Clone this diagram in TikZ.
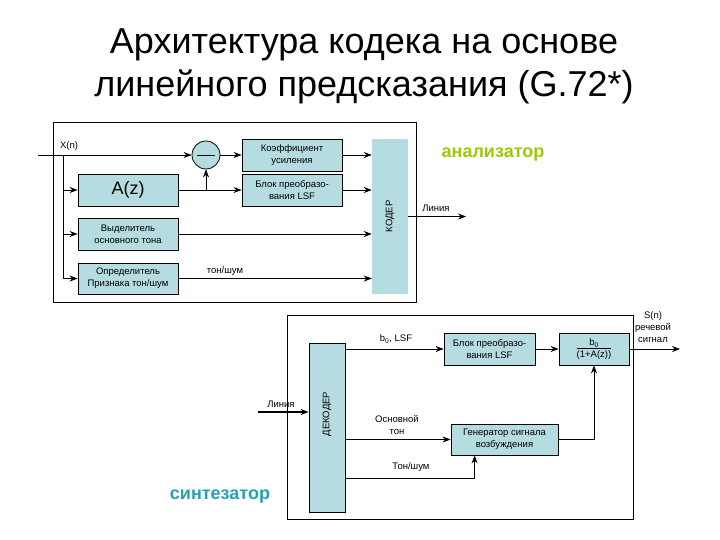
\documentclass[tikz,border=0pt]{standalone}
\usepackage{fontspec}
\setmainfont{Liberation Sans}
\usetikzlibrary{arrows.meta,calc}
\definecolor{boxfill}{RGB}{181,220,224}
\definecolor{analyz}{RGB}{153,204,0}
\definecolor{synthc}{RGB}{38,160,176}
\begin{document}
\begin{tikzpicture}[x=1pt,y=-1pt,
  every node/.style={font=\fontsize{9.5}{12}\selectfont, inner sep=0pt, align=center},
  blk/.style={draw, fill=boxfill, line width=0.8pt},
  frm/.style={draw, line width=0.8pt},
  arr/.style={-{Stealth[length=8pt,width=6pt]}, line width=0.8pt},
  ln/.style={line width=0.8pt}]

\useasboundingbox (0,0) rectangle (720,540);

% title
\node[font=\fontsize{36}{43}\selectfont] (title) at (364,66)
  {Архитектура кодека на основе\\линейного предсказания (G.72*)};

% ---------- analyzer ----------
\node[frm, minimum width=363pt, minimum height=180pt] (afr) at (234.5,212) {};
\node (xn) at (69,146) {X(n)};
\coordinate (in) at (38,155);
\coordinate (tap) at (63,155);
\node[blk, circle, minimum size=28pt] (sum) at (206,155) {};
\draw[ln] ($(sum.center)+(-9,0)$) -- ($(sum.center)+(9,0)$);
\node[blk, minimum width=100pt, minimum height=32pt, font=\fontsize{18}{20}\selectfont] (az) at (128,190) {A(z)};
\node[blk, minimum width=100pt, minimum height=32pt] (vyd) at (128,234) {Выделитель\\основного тона};
\node[blk, minimum width=100pt, minimum height=31pt] (opr) at (128,278.5) {Определитель\\Признака тон/шум};
\node[blk, minimum width=100pt, minimum height=32pt] (kf) at (292,155) {Коэффициент\\усиления};
\node[blk, minimum width=100pt, minimum height=32pt] (lsf) at (292,190) {Блок преобразо-\\вания LSF};
\node[fill=boxfill, minimum width=36pt, minimum height=155pt] (kod) at (390,216.5) {};
\node[rotate=90] (kodt) at (390,216.5) {КОДЕР};
\node (lin1) at (436,208) {Линия};
\coordinate (lout) at (466,216.5);
\node[font=\bfseries\fontsize{18}{20}\selectfont, text=analyz] (an) at (493,155) {анализатор};
\node (ton) at (225,271) {тон/шум};

\draw[arr] (in) -- (sum.west);
\draw[arr] (tap) |- (opr.west);
\draw[arr] (tap |- az.west) -- (az.west);
\draw[arr] (tap |- vyd.west) -- (vyd.west);
\draw[arr] (sum.east) -- (kf.west);
\draw[arr] (az.east) -- (lsf.west);
\draw[arr] (sum.south |- az.east) -- (sum.south);
\draw[arr] (kf.east) -- (kf.east -| kod.west);
\draw[arr] (lsf.east) -- (lsf.east -| kod.west);
\draw[arr] (vyd.east) -- (vyd.east -| kod.west);
\draw[arr] (opr.east) -- (opr.east -| kod.west);
\draw[arr] (kod.east) -- (lout);

% ---------- synthesizer ----------
\node[frm, minimum width=346pt, minimum height=204pt] (sfr) at (460,417) {};
\node[blk, minimum width=36pt, minimum height=169pt] (dek) at (327,427.5) {};
\node[rotate=90] (dekt) at (327,414) {ДЕКОДЕР};
\coordinate (linin) at (258,412);
\draw[-{Stealth[length=8pt,width=6pt]}, line width=1.6pt] (linin) -- (linin -| dek.west);
\node (lin2) at (281,404) {Линия};

\node[blk, minimum width=91pt, minimum height=32pt] (lsf2) at (489.5,349) {Блок преобразо-\\вания LSF};
\node[blk, minimum width=70pt, minimum height=32pt] (bz) at (594,349)
  {\begin{tabular}{@{}c@{}}b\textsubscript{0}\\[-1pt]\hline (1+A(z))\end{tabular}};
\node (blsf) at (396,339) {b\textsubscript{0}, LSF};
\coordinate (sout) at (680,349);
\node (sn) at (653,327) {S(n)\\речевой\\сигнал};

\node[blk, minimum width=107pt, minimum height=31pt] (gen) at (504.5,439.5) {Генератор сигнала\\возбуждения};
\node (osn) at (397,425) {Основной\\тон};
\coordinate (tshy) at (400,478);
\coordinate (gin) at ([xshift=24pt]gen.south west);
\node (tsl) at (411,467) {Тон/шум};

\node[font=\bfseries\fontsize{18}{20}\selectfont, text=synthc] (syn) at (220,497) {синтезатор};

\draw[arr] (dek.east |- lsf2.west) -- (lsf2.west);
\draw[arr] (lsf2.east) -- (bz.west);
\draw[arr] (bz.east) -- (sout);
\draw[arr] (dek.east |- gen.west) -- (gen.west);
\draw[arr] (gen.east) -| (bz.south);
\draw[arr] (dek.east |- tshy) -| (gin);
\end{tikzpicture}
\end{document}
